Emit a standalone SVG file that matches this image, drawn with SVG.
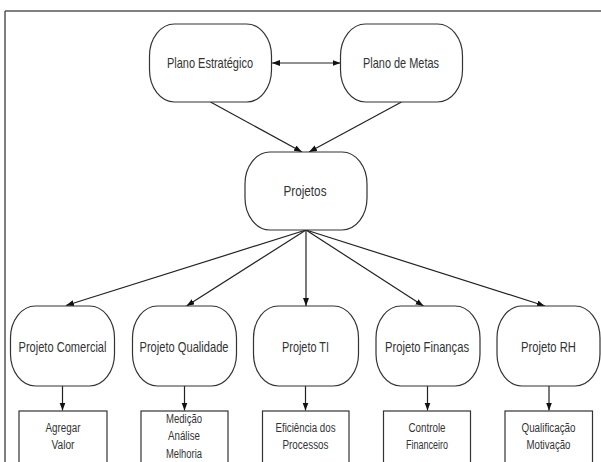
<svg xmlns="http://www.w3.org/2000/svg" width="601" height="462" viewBox="0 0 601 462">
<style>
.n{fill:#fff;stroke:#333;stroke-width:1.2}
.b{fill:#fff;stroke:#333;stroke-width:1.2}
.t{font-family:"Liberation Sans",Arial,sans-serif;font-size:14.5px;fill:#333;text-anchor:middle}
.s{font-family:"Liberation Sans",Arial,sans-serif;font-size:12px;fill:#333;text-anchor:middle}
.c{fill:none;stroke:#222;stroke-width:1.2}
</style>
<defs>
<marker id="ah" markerUnits="userSpaceOnUse" markerWidth="9" markerHeight="7" refX="8" refY="3" orient="auto-start-reverse">
<path d="M0,0 L8,3 L0,6 z" fill="#111"/>
</marker>
</defs>
<rect width="601" height="462" fill="#fff"/>
<g id="frame">
<path d="M5,11 H601 M5,11 V462" fill="none" stroke="#555" stroke-width="1.5"/>
</g>
<g id="connectors">
<line class="c" x1="272" y1="63" x2="340.5" y2="63" marker-start="url(#ah)" marker-end="url(#ah)"/>
<line class="c" x1="210.5" y1="102" x2="302" y2="152" marker-end="url(#ah)"/>
<line class="c" x1="401.5" y1="102" x2="309" y2="152" marker-end="url(#ah)"/>
<line class="c" x1="306" y1="230" x2="66" y2="305.5" marker-end="url(#ah)"/>
<line class="c" x1="306" y1="230" x2="186.5" y2="306" marker-end="url(#ah)"/>
<line class="c" x1="306" y1="230" x2="306" y2="306" marker-end="url(#ah)"/>
<line class="c" x1="306" y1="230" x2="423.5" y2="306" marker-end="url(#ah)"/>
<line class="c" x1="306" y1="230" x2="545" y2="306" marker-end="url(#ah)"/>
<line class="c" x1="62.5" y1="386" x2="62.5" y2="410.5" marker-end="url(#ah)"/>
<line class="c" x1="184.5" y1="386" x2="184.5" y2="410.5" marker-end="url(#ah)"/>
<line class="c" x1="305.5" y1="386" x2="305.5" y2="410.5" marker-end="url(#ah)"/>
<line class="c" x1="427.5" y1="386" x2="427.5" y2="410.5" marker-end="url(#ah)"/>
<line class="c" x1="549" y1="386" x2="549" y2="410.5" marker-end="url(#ah)"/>
</g>
<g id="plano-estrategico">
<rect class="n" x="149.5" y="24" width="122" height="78" rx="25" ry="32"/>
<text class="t" x="210" y="68" textLength="86" lengthAdjust="spacingAndGlyphs">Plano Estratégico</text>
</g>
<g id="plano-metas">
<rect class="n" x="340.5" y="24" width="122" height="78" rx="25" ry="32"/>
<text class="t" x="401" y="68" textLength="76" lengthAdjust="spacingAndGlyphs">Plano de Metas</text>
</g>
<g id="projetos">
<rect class="n" x="245" y="152" width="122" height="78" rx="25" ry="32"/>
<text class="t" x="305" y="196" textLength="43" lengthAdjust="spacingAndGlyphs">Projetos</text>
</g>
<g id="projeto-comercial">
<rect class="n" x="10.5" y="306" width="104" height="80" rx="25" ry="32"/>
<text class="t" x="62.5" y="352" textLength="88" lengthAdjust="spacingAndGlyphs">Projeto Comercial</text>
</g>
<g id="projeto-qualidade">
<rect class="n" x="132.5" y="306" width="104" height="80" rx="25" ry="32"/>
<text class="t" x="184" y="352" textLength="89" lengthAdjust="spacingAndGlyphs">Projeto Qualidade</text>
</g>
<g id="projeto-ti">
<rect class="n" x="253.5" y="306" width="105" height="80" rx="25" ry="32"/>
<text class="t" x="305.5" y="352" textLength="47" lengthAdjust="spacingAndGlyphs">Projeto TI</text>
</g>
<g id="projeto-financas">
<rect class="n" x="376" y="306" width="104" height="80" rx="25" ry="32"/>
<text class="t" x="427" y="352" textLength="84" lengthAdjust="spacingAndGlyphs">Projeto Finanças</text>
</g>
<g id="projeto-rh">
<rect class="n" x="497" y="306" width="103" height="80" rx="25" ry="32"/>
<text class="t" x="548.5" y="352" textLength="55" lengthAdjust="spacingAndGlyphs">Projeto RH</text>
</g>
<g id="agregar-valor">
<rect class="b" x="19" y="411" width="88" height="60"/>
<text class="s" x="63" y="432" textLength="35" lengthAdjust="spacingAndGlyphs">Agregar</text>
<text class="s" x="63" y="448.5" textLength="23" lengthAdjust="spacingAndGlyphs">Valor</text>
</g>
<g id="medicao">
<rect class="b" x="141" y="411" width="87" height="60"/>
<text class="s" x="184" y="422.5" textLength="36" lengthAdjust="spacingAndGlyphs">Medição</text>
<text class="s" x="184" y="440" textLength="32" lengthAdjust="spacingAndGlyphs">Análise</text>
<text class="s" x="184" y="457.5" textLength="36" lengthAdjust="spacingAndGlyphs">Melhoria</text>
</g>
<g id="eficiencia">
<rect class="b" x="262.5" y="411" width="86.5" height="60"/>
<text class="s" x="305.5" y="432" textLength="60" lengthAdjust="spacingAndGlyphs">Eficiência dos</text>
<text class="s" x="305.5" y="448.5" textLength="46" lengthAdjust="spacingAndGlyphs">Processos</text>
</g>
<g id="controle">
<rect class="b" x="383.5" y="411" width="87" height="60"/>
<text class="s" x="427" y="432" textLength="37" lengthAdjust="spacingAndGlyphs">Controle</text>
<text class="s" x="427" y="448.5" textLength="42" lengthAdjust="spacingAndGlyphs">Financeiro</text>
</g>
<g id="qualificacao">
<rect class="b" x="505" y="411" width="87.5" height="60"/>
<text class="s" x="548.5" y="432" textLength="54" lengthAdjust="spacingAndGlyphs">Qualificação</text>
<text class="s" x="548.5" y="448.5" textLength="44" lengthAdjust="spacingAndGlyphs">Motivação</text>
</g>
</svg>
